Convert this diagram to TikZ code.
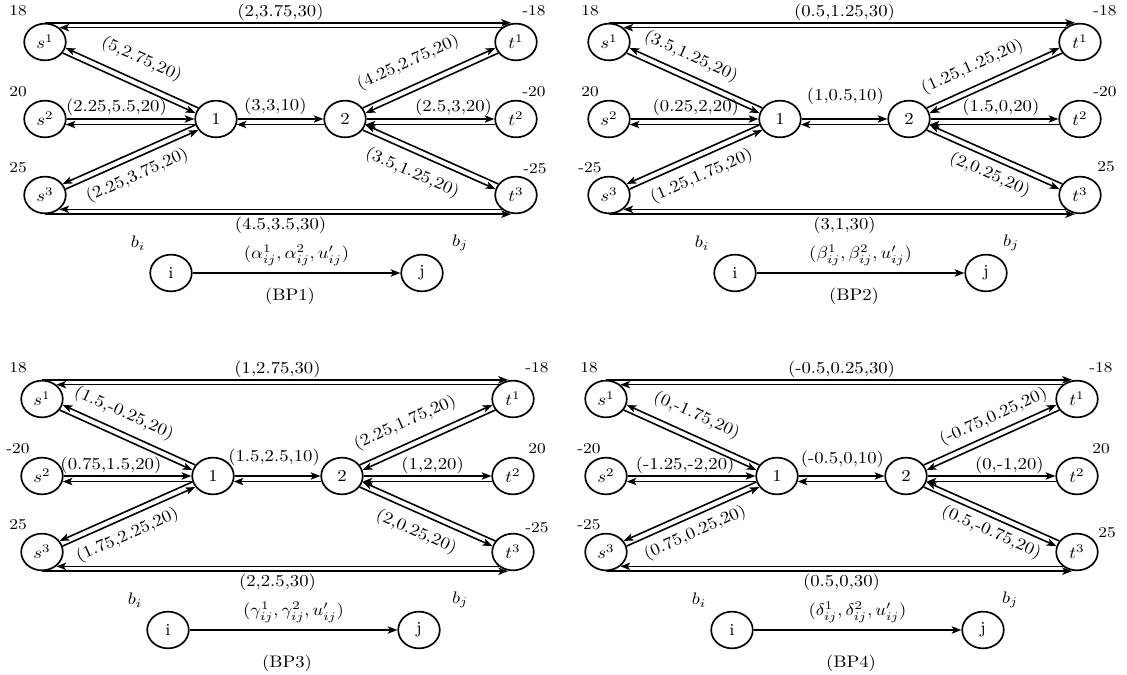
\documentclass[tikz,border=0pt]{standalone}
\usepackage{graphicx}
\usetikzlibrary{shapes.geometric,arrows.meta,calc}
\newcommand\hs[1]{\scalebox{1.12}[1]{#1}}
\tikzset{
  vtx/.style={ellipse, draw, line width=1pt, minimum width=24.9pt, minimum height=22pt, inner sep=0pt},
  arr/.style={line width=0.95pt, -{Stealth[length=5.8pt,width=4.4pt,inset=1.4pt]}},
  lab/.style={inner sep=1pt},
  sup/.style={inner sep=0pt, font=\small},
}
\newcommand\drawpanel[1]{%
  \node[vtx] (#1s1) at (45,42) {\hs{$s^1$}};
  \node[vtx] (#1s2) at (45,119) {\hs{$s^2$}};
  \node[vtx] (#1s3) at (45,195) {\hs{$s^3$}};
  \node[vtx] (#1n1) at (216,119) {\hs{1}};
  \node[vtx] (#1n2) at (345,119) {\hs{2}};
  \node[vtx] (#1t1) at (516,42) {\hs{$t^1$}};
  \node[vtx] (#1t2) at (516,119) {\hs{$t^2$}};
  \node[vtx] (#1t3) at (516,195) {\hs{$t^3$}};
  \node[sup] (#1bs1) at ($(#1s1)+(\qSX,-31)$) {\hs{\qSa}};
  \node[sup] (#1bs2) at ($(#1s2)+(\qSX,-27)$) {\hs{\qSb}};
  \node[sup] (#1bs3) at ($(#1s3)+(\qSX,-27)$) {\hs{\qSc}};
  \node[sup] (#1bt1) at ($(#1t1)+(\qTX,-31)$) {\hs{\qTa}};
  \node[sup] (#1bt2) at ($(#1t2)+(\qTX,-27)$) {\hs{\qTb}};
  \node[sup] (#1bt3) at ($(#1t3)+(\qTXc,\qTYc)$) {\hs{\qTc}};
  % long top and bottom edges
  \draw[arr,shorten >=3pt] (#1s1.north) -- node[lab,above,pos=0.5] (#1lt) {\hs{\qLt}} (#1t1.north);
  \draw[arr] (#1t1.135) -- (#1s1.45);
  \draw[arr] (#1t3.-135) -- (#1s3.-45);
  \draw[arr,shorten >=3pt] (#1s3.south) -- node[lab,below,pos=0.5] (#1lb) {\hs{\qLb}} (#1t3.south);
  % s1 - 1
  \draw[arr] (#1n1.148) -- (#1s1.-16);
  \draw[arr] (#1s1.-32) -- (#1n1.164);
  \path (#1s1) -- node[lab,sloped,above=\qDa,pos=\qPa] (#1la) {\hs{\qLa}} (#1n1);
  % s2 - 1
  \draw[arr] (#1s2) -- node[lab,above=\qDc,pos=\qPc] (#1lc) {\hs{\qLc}} (#1n1);
  \draw[arr] (#1n1.195) -- (#1s2.-15);
  % s3 - 1
  \draw[arr] (#1n1.196) -- (#1s3.32);
  \draw[arr] (#1s3.16) -- (#1n1.212);
  \path (#1s3) -- node[lab,sloped,below=\qDd,pos=\qPd] (#1ld) {\hs{\qLd}} (#1n1);
  % 1 - 2
  \draw[arr] (#1n1) -- node[lab,above=\qDe,pos=\qPe] (#1le) {\hs{\qLe}} (#1n2);
  \draw[arr] (#1n2.195) -- (#1n1.-15);
  % 2 - t1
  \draw[arr] (#1n2.32) -- (#1t1.196);
  \draw[arr] (#1t1.212) -- (#1n2.16);
  \path (#1n2) -- node[lab,sloped,above=\qDf,pos=\qPf] (#1lf) {\hs{\qLf}} (#1t1);
  % 2 - t2
  \draw[arr] (#1n2) -- node[lab,above=\qDc,pos=\qPg] (#1lg) {\hs{\qLg}} (#1t2);
  \draw[arr] (#1t2.195) -- (#1n2.-15);
  % 2 - t3
  \draw[arr] (#1t3.148) -- (#1n2.-16);
  \draw[arr] (#1n2.-32) -- (#1t3.164);
  \path (#1n2) -- node[lab,sloped,below=\qDh,pos=\qPh] (#1lh) {\hs{\qLh}} (#1t3);
  % legend
  \node[vtx] (#1i) at (171,273) {\hs{i}};
  \node[vtx] (#1j) at (422,273) {\hs{j}};
  \draw[arr] (#1i) -- node[lab,above=3pt] (#1ll) {\hs{\qLl}} (#1j);
  \node[lab] (#1bi) at (138,243) {\hs{$b_i$}};
  \node[lab] (#1bj) at (\qBJ,243) {\hs{$b_j$}};
  \node[lab] (#1cap) at (290,\qCY) {\hs{\qCap}};
}
\begin{document}
\begin{tikzpicture}[x=0.599pt,y=-0.599pt]
\useasboundingbox (0,0) rectangle (1127,675);
% ---------------- BP1
\begin{scope}
\def\qLt{(2,3.75,30)}\def\qLb{(4.5,3.5,30)}
\def\qLa{(5,2.75,20)}\def\qLc{(2.25,5.5,20)}\def\qLd{(2.25,3.75,20)}
\def\qLe{(3,3,10)}\def\qLf{(4.25,2.75,20)}\def\qLg{(2.5,3,20)}\def\qLh{(3.5,1.25,20)}
\def\qSa{18}\def\qSb{20}\def\qSc{25}\def\qTa{-18}\def\qTb{-20}\def\qTc{-25}
\def\qSX{-27}\def\qTX{18}\def\qTXc{19}\def\qTYc{-26}
\def\qPa{0.51}\def\qPc{0.39}\def\qPd{0.49}\def\qPe{0.44}\def\qPf{0.41}\def\qPg{0.68}\def\qPh{0.43}
\def\qDa{8pt}\def\qDd{5.7pt}\def\qDf{9pt}\def\qDh{7pt}\def\qDe{1pt}\def\qDc{0.5pt}
\def\qLl{$(\alpha^1_{ij},\alpha^2_{ij},u'_{ij})$}\def\qCap{(BP1)}\def\qCY{296}\def\qBJ{460}
\drawpanel{a}
\end{scope}
% ---------------- BP2
\begin{scope}[shift={(564,0)}]
\def\qLt{(0.5,1.25,30)}\def\qLb{(3,1,30)}
\def\qLa{(3.5,1.25,20)}\def\qLc{(0.25,2,20)}\def\qLd{(1.25,1.75,20)}
\def\qLe{(1,0.5,10)}\def\qLf{(1.25,1.25,20)}\def\qLg{(1.5,0,20)}\def\qLh{(2,0.25,20)}
\def\qSa{18}\def\qSb{20}\def\qSc{-25}\def\qTa{-18}\def\qTb{-20}\def\qTc{25}
\def\qSX{-19}\def\qTX{25}\def\qTXc{26}\def\qTYc{-28}
\def\qPa{0.41}\def\qPc{0.51}\def\qPd{0.49}\def\qPe{0.51}\def\qPf{0.40}\def\qPg{0.55}\def\qPh{0.52}
\def\qDa{6pt}\def\qDd{6pt}\def\qDf{6.7pt}\def\qDh{4.7pt}\def\qDe{7pt}\def\qDc{0.5pt}
\def\qLl{$(\beta^1_{ij},\beta^2_{ij},u'_{ij})$}\def\qCap{(BP2)}\def\qCY{296}\def\qBJ{447}
\drawpanel{b}
\end{scope}
% ---------------- BP3
\begin{scope}[shift={(-3,357)}]
\def\qLt{(1,2.75,30)}\def\qLb{(2,2.5,30)}
\def\qLa{(1.5,-0.25,20)}\def\qLc{(0.75,1.5,20)}\def\qLd{(1.75,2.25,20)}
\def\qLe{(1.5,2.5,10)}\def\qLf{(2.25,1.75,20)}\def\qLg{(1,2,20)}\def\qLh{(2,0.25,20)}
\def\qSa{18}\def\qSb{-20}\def\qSc{25}\def\qTa{-18}\def\qTb{20}\def\qTc{-25}
\def\qSX{-24}\def\qTX{24}\def\qTXc{24}\def\qTYc{-24}
\def\qPa{0.41}\def\qPc{0.37}\def\qPd{0.44}\def\qPe{0.46}\def\qPf{0.40}\def\qPg{0.54}\def\qPh{0.48}
\def\qDa{6pt}\def\qDd{5.6pt}\def\qDf{7.2pt}\def\qDh{6.5pt}\def\qDe{5pt}\def\qDc{0pt}
\def\qLl{$(\gamma^1_{ij},\gamma^2_{ij},u'_{ij})$}\def\qCap{(BP3)}\def\qCY{306}\def\qBJ{463}
\drawpanel{c}
\end{scope}
% ---------------- BP4
\begin{scope}[shift={(561,357)}]
\def\qLt{(-0.5,0.25,30)}\def\qLb{(0.5,0,30)}
\def\qLa{(0,-1.75,20)}\def\qLc{(-1.25,-2,20)}\def\qLd{(0.75,0.25,20)}
\def\qLe{(-0.5,0,10)}\def\qLf{(-0.75,0.25,20)}\def\qLg{(0,-1,20)}\def\qLh{(0.5,-0.75,20)}
\def\qSa{18}\def\qSb{-20}\def\qSc{-25}\def\qTa{-18}\def\qTb{20}\def\qTc{25}
\def\qSX{-17}\def\qTX{24}\def\qTXc{30}\def\qTYc{-19}
\def\qPa{0.47}\def\qPc{0.45}\def\qPd{0.47}\def\qPe{0.51}\def\qPf{0.57}\def\qPg{0.64}\def\qPh{0.55}
\def\qDa{7pt}\def\qDd{5pt}\def\qDf{4.6pt}\def\qDh{4pt}\def\qDe{3.5pt}\def\qDc{0pt}
\def\qLl{$(\delta^1_{ij},\delta^2_{ij},u'_{ij})$}\def\qCap{(BP4)}\def\qCY{306}\def\qBJ{449}
\drawpanel{d}
\end{scope}
\end{tikzpicture}
\end{document}
